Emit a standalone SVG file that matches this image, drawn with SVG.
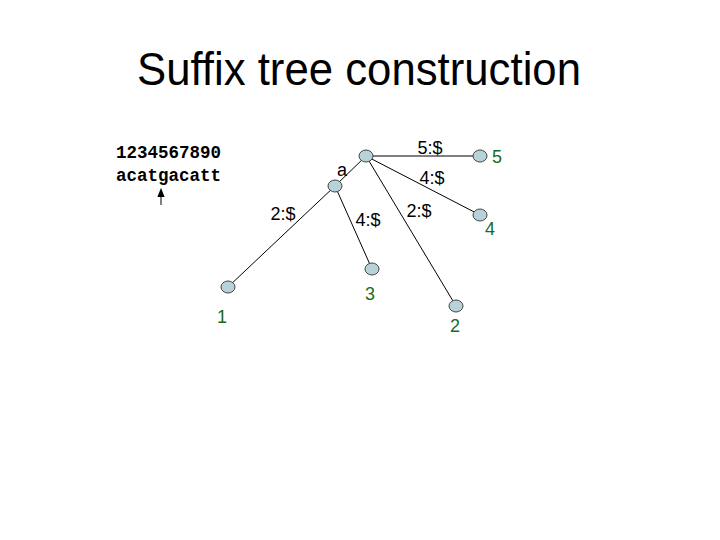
<svg xmlns="http://www.w3.org/2000/svg" width="720" height="540" viewBox="0 0 720 540">
<style>
.title{font-family:"Liberation Sans",Arial,sans-serif;font-size:46px;fill:#000}
.mono{font-family:"Liberation Mono","Courier New",monospace;font-weight:bold;font-size:17.5px;fill:#000}
.lbl{font-family:"Liberation Sans",Arial,sans-serif;font-size:18px;fill:#000}
.leaf{font-family:"Liberation Sans",Arial,sans-serif;font-size:18px;fill:#1a6b1a}
.node{fill:#b7d3d9;stroke:#444;stroke-width:1}
.edge{stroke:#000;stroke-width:1;fill:none}
</style>
<defs>
<marker id="ah" viewBox="0 0 10 8" refX="1" refY="4" markerWidth="9" markerHeight="8" markerUnits="userSpaceOnUse" orient="auto">
<path d="M0,0 L10,4 L0,8 z" fill="#000"/>
</marker>
</defs>
<rect width="720" height="540" fill="#fff"/>
<text class="title" x="137" y="85" textLength="444" lengthAdjust="spacingAndGlyphs">Suffix tree construction</text>
<g id="string">
<text class="mono" x="116" y="158">1234567890</text>
<text class="mono" x="116" y="181">acatgacatt</text>
</g>
<g id="connectors">
<line class="edge" x1="161" y1="205" x2="161" y2="196" stroke-width="2.5" marker-end="url(#ah)"/>
<line class="edge" x1="366" y1="156" x2="480" y2="156"/>
<line class="edge" x1="366" y1="156" x2="480" y2="215"/>
<line class="edge" x1="366" y1="156" x2="456" y2="306"/>
<line class="edge" x1="366" y1="156" x2="335" y2="186"/>
<line class="edge" x1="335" y1="186" x2="372" y2="269"/>
<line class="edge" x1="335" y1="186" x2="228" y2="287"/>
</g>
<g id="labels">
<text class="lbl" x="430" y="154" text-anchor="middle">5:$</text>
<text class="lbl" x="432" y="184" text-anchor="middle">4:$</text>
<text class="lbl" x="419" y="217" text-anchor="middle">2:$</text>
<text class="lbl" x="368" y="226" text-anchor="middle">4:$</text>
<text class="lbl" x="283" y="220" text-anchor="middle">2:$</text>
<text class="lbl" x="342" y="176" text-anchor="middle">a</text>
</g>
<g id="root"><ellipse class="node" cx="366" cy="156" rx="7" ry="6"/></g>
<g id="node-a"><ellipse class="node" cx="335" cy="186" rx="7" ry="6"/></g>
<g id="leaf5"><ellipse class="node" cx="480" cy="156" rx="7" ry="6"/><text class="leaf" x="497" y="163" text-anchor="middle">5</text></g>
<g id="leaf4"><ellipse class="node" cx="480" cy="215" rx="7" ry="6"/><text class="leaf" x="490" y="235" text-anchor="middle">4</text></g>
<g id="leaf3"><ellipse class="node" cx="372" cy="269" rx="7" ry="6"/><text class="leaf" x="370" y="300" text-anchor="middle">3</text></g>
<g id="leaf1"><ellipse class="node" cx="228" cy="287" rx="7" ry="6"/><text class="leaf" x="222" y="323" text-anchor="middle">1</text></g>
<g id="leaf2"><ellipse class="node" cx="456" cy="306" rx="7" ry="6"/><text class="leaf" x="455" y="332" text-anchor="middle">2</text></g>
</svg>
